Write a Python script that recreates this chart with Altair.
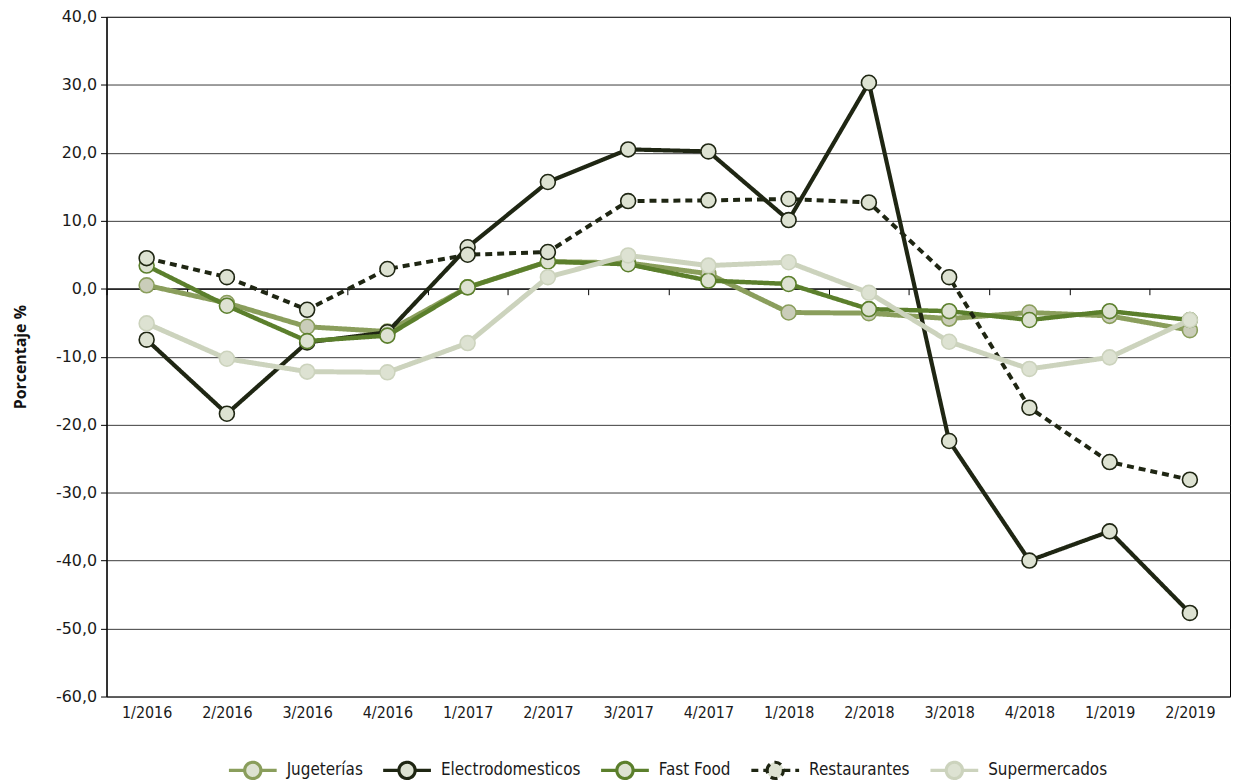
import altair as alt
import pandas as pd

periods = ["1/2016", "2/2016", "3/2016", "4/2016", "1/2017", "2/2017", "3/2017",
           "4/2017", "1/2018", "2/2018", "3/2018", "4/2018", "1/2019", "2/2019"]

series_names = ["Jugeterías", "Electrodomesticos", "Fast Food", "Restaurantes", "Supermercados"]

jugueterias = [0.5, -2.1, -5.6, -6.3, 0.2, 4.0, 3.8, 2.2, -3.5, -3.6, -4.4, -3.5, -4.0, -6.1]
electrodomesticos = [-7.5, -18.4, -7.9, -6.4, 6.1, 15.7, 20.5, 20.2, 10.1, 30.3, -22.4, -40.0, -35.7, -47.7]
fast_food = [3.4, -2.5, -7.7, -6.9, 0.2, 4.0, 3.6, 1.2, 0.7, -3.0, -3.3, -4.6, -3.3, -4.6]
restaurantes = [4.5, 1.7, -3.1, 2.9, 5.0, 5.4, 12.9, 13.0, 13.2, 12.7, 1.7, -17.5, -25.5, -28.1]
supermercados = [-5.1, -10.3, -12.2, -12.3, -8.0, 1.7, 4.9, 3.4, 3.9, -0.6, -7.8, -11.8, -10.1, -4.6]

values = [jugueterias, electrodomesticos, fast_food, restaurantes, supermercados]

line_colors = ["#8a9e5c", "#1f2613", "#5b7f2c", "#1f2613", "#ccd3bd"]
marker_fills = ["#cacdb9", "#dde2d2", "#dde2d2", "#dde2d2", "#dde2d2"]
line_widths = [5, 4.2, 4.5, 4, 5]
dashes = [[1, 0], [1, 0], [1, 0], [7, 5], [1, 0]]

rows = []
for name, vals in zip(series_names, values):
    for p, v in zip(periods, vals):
        rows.append({"serie": name, "periodo": p, "valor": v})
df = pd.DataFrame(rows)

# plot area geometry
W, H = 1129, 683
ymin, ymax = -60, 40
zero_offset = -(H * (0 - ymin) / (ymax - ymin))

label_font = "DejaVu Sans Condensed, Roboto, sans-serif"
num_font = "DejaVu Sans"

legend_path = ("M-1,0L-0.34,0M0.34,0L1,0"
               "M-0.34,0A0.34,0.34,0,1,1,0.34,0A0.34,0.34,0,1,1,-0.34,0Z")

legend = alt.Legend(
    orient="none", legendX=121, legendY=731, direction="horizontal", title=None,
    symbolType=legend_path, symbolSize=2304, symbolStrokeWidth=3.2,
    symbolFillColor="#dde2d2", symbolOpacity=1,
    labelFont=label_font, labelFontSize=17, labelColor="#1a1a1a",
    columnPadding=13, labelOffset=8,
)

color_scale = alt.Scale(domain=series_names, range=line_colors)
dash_scale = alt.Scale(domain=series_names, range=dashes)

x_enc = alt.X(
    "periodo:N", sort=periods, bandPosition=0.5,
    scale=alt.Scale(type="band", paddingInner=0, paddingOuter=0),
    axis=alt.Axis(
        title=None, offset=zero_offset, tickBand="extent",
        labelPadding=412, tickSize=6, tickColor="black", tickWidth=1,
        domainColor="black", domainWidth=1.2, labelAngle=0, grid=False,
        labelFont=label_font, labelFontSize=16, labelColor="#1a1a1a",
    ),
)
y_enc = alt.Y(
    "valor:Q",
    scale=alt.Scale(domain=[ymin, ymax], nice=False, zero=False),
    axis=alt.Axis(
        values=list(range(ymin, ymax + 1, 10)),
        labelExpr="(datum.value < 0 ? '-' : '') + replace(format(abs(datum.value), '.1f'), '.', ',')",
        grid=True, gridColor="#3a3a3a", gridWidth=1,
        tickColor="black", tickSize=6, domainColor="black", domainWidth=1.2,
        labelFont=num_font, labelFontSize=16, labelColor="#1a1a1a", labelPadding=4,
        title="Porcentaje %", titleFont="Open Sans", titleFontSize=16,
        titleFontWeight="bold", titleColor="#111", titlePadding=27,
    ),
)

base = alt.Chart(df)
layers = []
for i, name in enumerate(series_names):
    sub = base.transform_filter(alt.datum.serie == name)
    line = sub.mark_line(strokeWidth=line_widths[i], strokeCap="butt", strokeJoin="round").encode(
        x=x_enc, y=y_enc,
        color=alt.Color("serie:N", scale=color_scale, legend=legend),
        strokeDash=alt.StrokeDash("serie:N", scale=dash_scale, legend=legend),
    )
    pts = sub.mark_point(
        shape="circle", filled=True, size=225, fill=marker_fills[i], fillOpacity=1,
        stroke=line_colors[i], strokeWidth=1.6, opacity=1,
    ).encode(x=x_enc, y=y_enc)
    layers += [line, pts]

chart = alt.layer(*layers).properties(
    width=W, height=H,
    autosize=alt.AutoSizeParams(type="none"),
    padding={"left": 99, "top": 7, "right": 2, "bottom": 84},
    background="white",
).configure_view(stroke="black", strokeWidth=1)

chart.save("out.html", embed_options={"renderer": "svg", "actions": False})
